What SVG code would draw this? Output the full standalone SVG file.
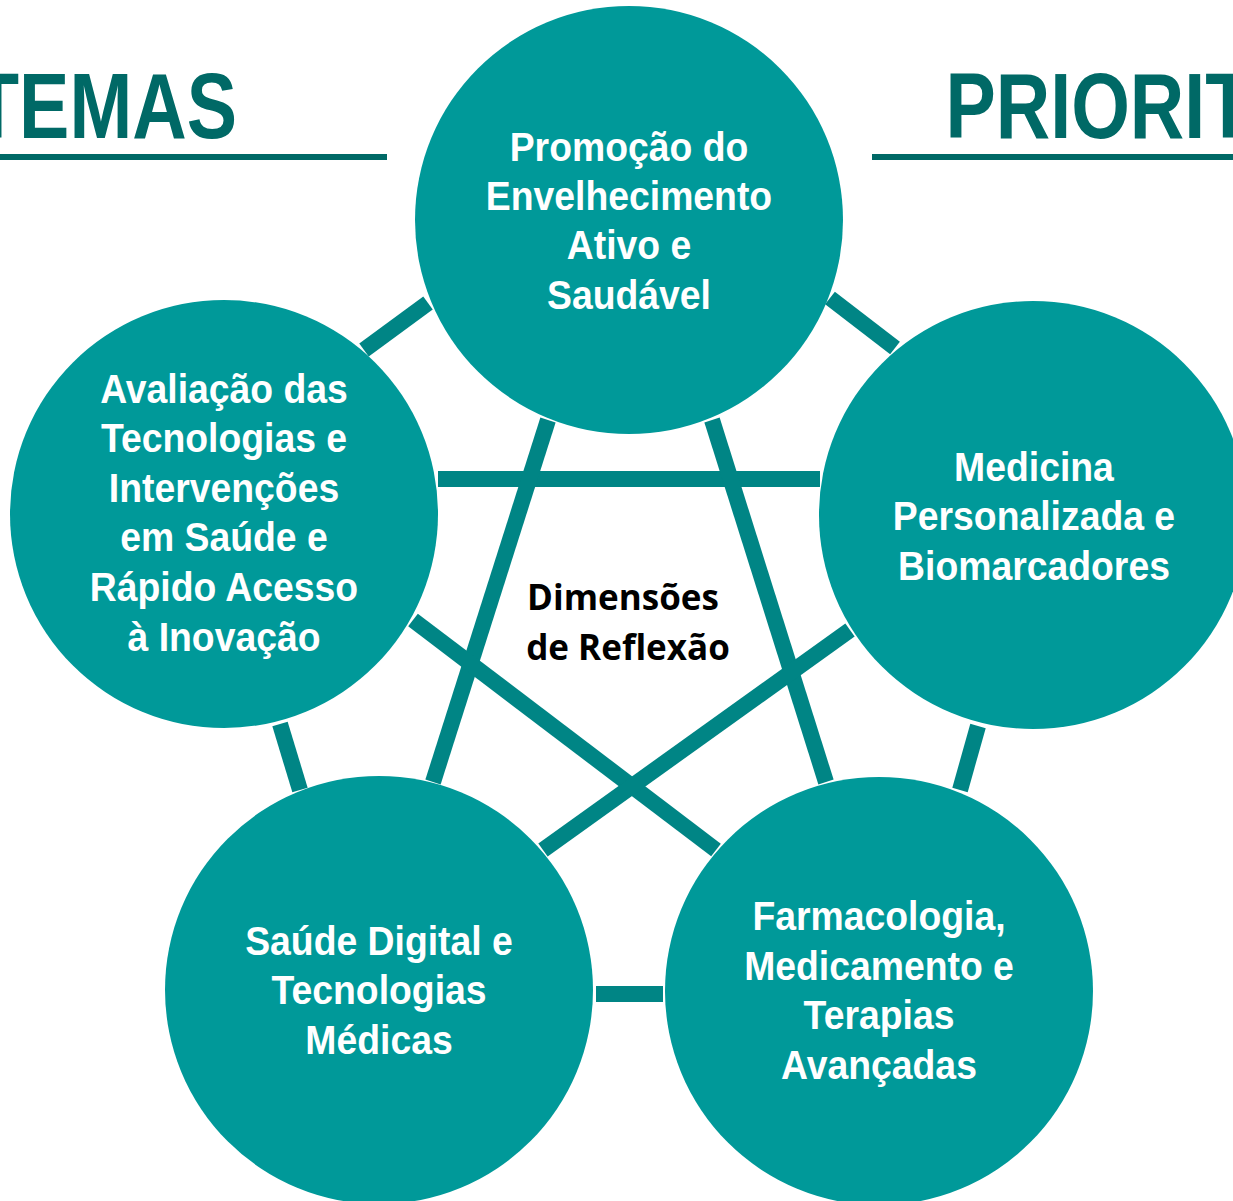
<svg xmlns="http://www.w3.org/2000/svg" width="1233" height="1201" viewBox="0 0 1233 1201">
<style>
.node{fill:#009999}
.lbl{font-family:"Liberation Sans",Arial,sans-serif;font-weight:bold;font-size:41.5px;fill:#ffffff;text-anchor:middle}
.conn line{stroke:#008585;stroke-width:16;stroke-linecap:butt}
.hdr{font-family:"Liberation Sans",Arial,sans-serif;font-weight:bold;font-size:92px;fill:#006966}
.ctr{font-family:"Open Sans","Noto Sans",sans-serif;font-weight:bold;font-size:35px;fill:#000000;text-anchor:middle}
</style>
<rect width="1233" height="1201" fill="#ffffff"/>
<g id="header">
<g transform="scale(0.82 1)">
<text class="hdr" x="289" y="138" text-anchor="end">TEMAS</text>
<text class="hdr" x="1153" y="138">PRIORIT</text>
</g>
<rect x="0" y="154" width="387" height="6" fill="#006966"/>
<rect x="872" y="154" width="361" height="6" fill="#006966"/>
</g>
<g id="connectors" class="conn">
<line x1="364" y1="350" x2="428" y2="303"/>
<line x1="830" y1="298" x2="895" y2="348"/>
<line x1="438" y1="479" x2="820" y2="479"/>
<line x1="548" y1="420" x2="433" y2="782"/>
<line x1="712" y1="420" x2="826" y2="782"/>
<line x1="413" y1="620" x2="716" y2="850"/>
<line x1="850" y1="630" x2="543" y2="850"/>
<line x1="978" y1="726" x2="960" y2="790"/>
<line x1="280" y1="724" x2="300" y2="790"/>
<line x1="596" y1="994" x2="663" y2="994"/>
</g>
<g id="center">
<text class="ctr" x="623" y="610">Dimensões</text>
<text class="ctr" x="628" y="660">de Reflexão</text>
</g>
<g id="n-top">
<circle class="node" cx="629" cy="220" r="214"/>
<g transform="translate(629 0) scale(0.9 1)">
<text class="lbl" x="0" y="161">Promoção do</text>
<text class="lbl" x="0" y="210">Envelhecimento</text>
<text class="lbl" x="0" y="259">Ativo e</text>
<text class="lbl" x="0" y="309">Saudável</text>
</g>
</g>
<g id="n-right">
<circle class="node" cx="1033" cy="515" r="214"/>
<g transform="translate(1034 0) scale(0.9 1)">
<text class="lbl" x="0" y="481">Medicina</text>
<text class="lbl" x="0" y="530">Personalizada e</text>
<text class="lbl" x="0" y="580">Biomarcadores</text>
</g>
</g>
<g id="n-left">
<circle class="node" cx="224" cy="514" r="214"/>
<g transform="translate(224 0) scale(0.9 1)">
<text class="lbl" x="0" y="403">Avaliação das</text>
<text class="lbl" x="0" y="452">Tecnologias e</text>
<text class="lbl" x="0" y="502">Intervenções</text>
<text class="lbl" x="0" y="551">em Saúde e</text>
<text class="lbl" x="0" y="601">Rápido Acesso</text>
<text class="lbl" x="0" y="651">à Inovação</text>
</g>
</g>
<g id="n-bottom-left">
<circle class="node" cx="379" cy="990" r="214"/>
<g transform="translate(379 0) scale(0.9 1)">
<text class="lbl" x="0" y="955">Saúde Digital e</text>
<text class="lbl" x="0" y="1004">Tecnologias</text>
<text class="lbl" x="0" y="1054">Médicas</text>
</g>
</g>
<g id="n-bottom-right">
<circle class="node" cx="879" cy="991" r="214"/>
<g transform="translate(879 0) scale(0.9 1)">
<text class="lbl" x="0" y="930">Farmacologia,</text>
<text class="lbl" x="0" y="980">Medicamento e</text>
<text class="lbl" x="0" y="1029">Terapias</text>
<text class="lbl" x="0" y="1079">Avançadas</text>
</g>
</g>
</svg>
